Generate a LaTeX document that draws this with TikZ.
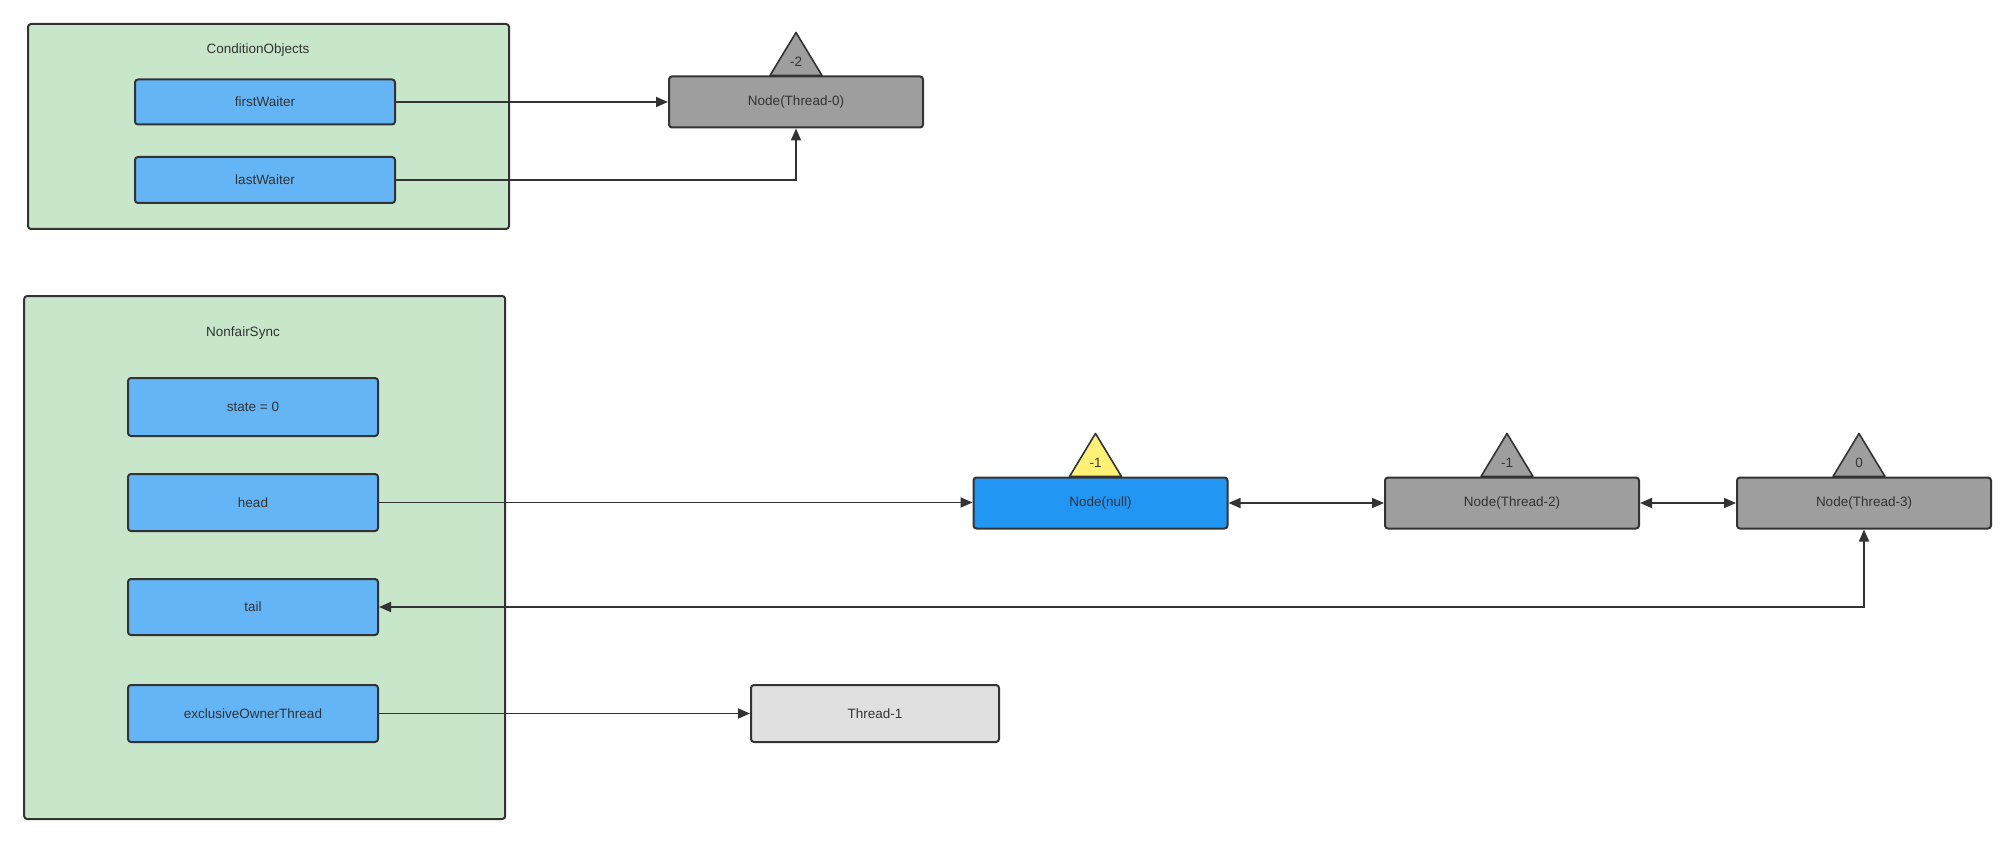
\documentclass[tikz,border=0pt]{standalone}
\usepackage{fontspec}
\setmainfont{Liberation Sans}
\usetikzlibrary{arrows.meta,calc}
\definecolor{grn}{HTML}{C8E6C9}
\definecolor{lblue}{HTML}{64B5F6}
\definecolor{dblue}{HTML}{2196F3}
\definecolor{gry}{HTML}{9E9E9E}
\definecolor{lgry}{HTML}{E0E0E0}
\definecolor{ylw}{HTML}{FFF176}
\definecolor{ink}{HTML}{333333}
\tikzset{
  base/.style={draw=ink, line width=2pt, rounded corners=3pt, text=ink, font=\fontsize{13.5}{15}\selectfont, inner sep=0pt},
  group/.style={base, fill=grn},
  field/.style={base, fill=lblue, minimum width=250pt, minimum height=56pt},
  qnode/.style={base, minimum width=254pt, minimum height=51pt},
  lbl/.style={text=ink, font=\fontsize{13.5}{15}\selectfont},
  tri/.style={draw=ink, line width=1.6pt, line join=round},
  conn/.style={draw=ink, line width=1.8pt, -{Triangle[length=12pt,width=10pt]}},
  dconn/.style={draw=ink, line width=1.8pt, {Triangle[length=12pt,width=10pt]}-{Triangle[length=12pt,width=10pt]}}
}
\begin{document}
\begin{tikzpicture}[x=1pt,y=-1pt]
\useasboundingbox (0,0) rectangle (2016,845);
% ConditionObjects
\node[group, minimum width=481pt, minimum height=205pt] (co) at (268.5,126.5) {};
\node[lbl] (cot) at (258,50) {ConditionObjects};
\node[field, minimum width=260pt, minimum height=45pt] (fw) at (265,102) {firstWaiter};
\node[field, minimum width=260pt, minimum height=46pt] (lw) at (265,180) {lastWaiter};
\node[qnode, fill=gry] (t0) at (796,102) {Node(Thread-0)};
\draw[tri, fill=gry] ($(t0.north)+(-26,0)$) -- ($(t0.north)+(0,-43)$) -- ($(t0.north)+(26,0)$) -- cycle;
\node[lbl] (t0w) at ($(t0.north)+(0,-14)$) {-2};
\draw[conn] (fw.east) -- (t0.west);
\draw[conn] (lw.east) -| (t0.south);
% NonfairSync
\node[group, minimum width=481pt, minimum height=523pt] (ns) at (264.7,557.5) {};
\node[lbl] (nst) at (243,333) {NonfairSync};
\node[field, minimum height=58pt] (st) at (253,407) {state = 0};
\node[field, minimum height=57pt] (hd) at (253,502.5) {head};
\node[field] (tl) at (253,607) {tail};
\node[field, minimum height=57pt] (eo) at (253,713.5) {exclusiveOwnerThread};
\node[qnode, fill=dblue] (nn) at (1100.5,503) {Node(null)};
\node[qnode, fill=gry] (t2) at (1512,503) {Node(Thread-2)};
\node[qnode, fill=gry] (t3) at (1864,503) {Node(Thread-3)};
\node[qnode, fill=lgry, minimum width=248pt, minimum height=57pt] (t1) at (875,713.5) {Thread-1};
\draw[tri, fill=ylw] ($(nn.north)+(-31,0)$) -- ($(nn.north)+(-5,-43)$) -- ($(nn.north)+(21,0)$) -- cycle;
\node[lbl] (nnw) at ($(nn.north)+(-5,-14)$) {-1};
\draw[tri, fill=gry] ($(t2.north)+(-31,0)$) -- ($(t2.north)+(-5,-43)$) -- ($(t2.north)+(21,0)$) -- cycle;
\node[lbl] (t2w) at ($(t2.north)+(-5,-14)$) {-1};
\draw[tri, fill=gry] ($(t3.north)+(-31,0)$) -- ($(t3.north)+(-5,-43)$) -- ($(t3.north)+(21,0)$) -- cycle;
\node[lbl] (t3w) at ($(t3.north)+(-5,-14)$) {0};
\draw[conn] (hd.east) -- (nn.west |- hd.east);
\draw[dconn] (nn.east) -- (t2.west);
\draw[dconn] (t2.east) -- (t3.west);
\draw[dconn] (t3.south) |- (tl.east);
\draw[conn] (eo.east) -- (t1.west);
\end{tikzpicture}
\end{document}
